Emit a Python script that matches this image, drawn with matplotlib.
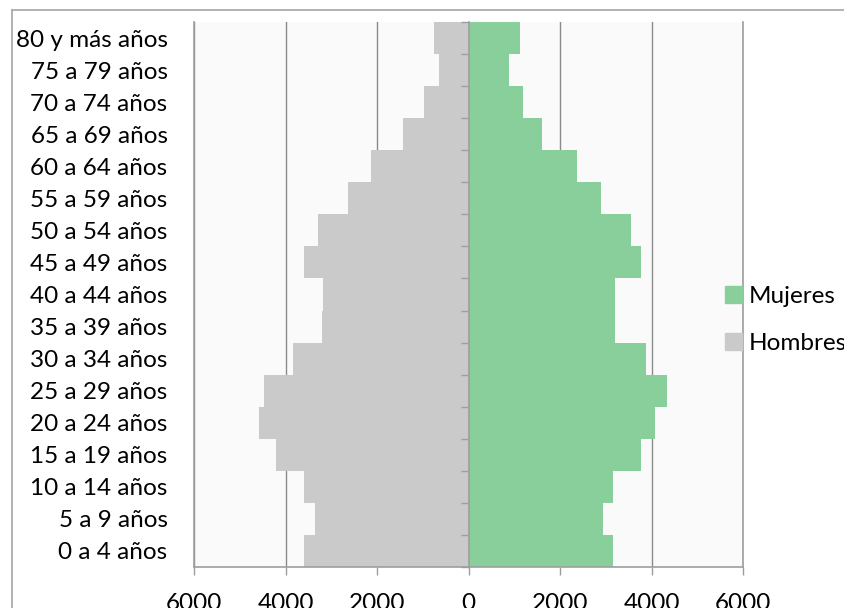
import numpy as np
import matplotlib.pyplot as plt
from matplotlib.lines import Line2D
from matplotlib.patches import Patch

plt.rcParams['font.family'] = ['Lato', 'DejaVu Sans']

# grupos de edad, de abajo hacia arriba
grupos = ['0 a 4 años', '5 a 9 años', '10 a 14 años', '15 a 19 años',
          '20 a 24 años', '25 a 29 años', '30 a 34 años', '35 a 39 años',
          '40 a 44 años', '45 a 49 años', '50 a 54 años', '55 a 59 años',
          '60 a 64 años', '65 a 69 años', '70 a 74 años', '75 a 79 años',
          '80 y más años']
hombres = [3590, 3360, 3600, 4215, 4575, 4465, 3845, 3210, 3175, 3595,
           3295, 2640, 2130, 1430, 980, 650, 755]
mujeres = [3165, 2945, 3165, 3765, 4075, 4330, 3880, 3205, 3205, 3765,
           3545, 2890, 2380, 1615, 1185, 885, 1135]
xticks = [-6000, -4000, -2000, 0, 2000, 4000, 6000]

verde = '#88cf9c'
gris = '#cacaca'
linea = '#9e9e9e'
fs = 17.5

fig = plt.figure(figsize=(8.44, 6.08), dpi=100)
ax = fig.add_axes([194/844, 41/608, 549/844, 545/608])
ax.set_facecolor('#fafafa')

y = np.arange(len(grupos))
ax.barh(y, [-h for h in hombres], height=1.0, color=gris, label='Hombres', zorder=2)
ax.barh(y, mujeres, height=1.0, color=verde, label='Mujeres', zorder=2)

ax.set_xlim(-6000, 6000)
ax.set_ylim(-0.5, len(grupos) - 0.5)
ax.set_xticks(xticks)
ax.set_xticklabels([str(abs(t)) for t in xticks])
ax.xaxis.grid(True, color='#8a8a8a', linewidth=1.0, zorder=1)
ax.set_axisbelow(True)

ax.set_yticks(y)
ax.set_yticklabels(grupos)
ax.tick_params(axis='y', length=0, pad=19, labelsize=fs)
ax.tick_params(axis='x', length=6, width=1.0, color=linea, pad=13, labelsize=fs)

ax.spines['top'].set_visible(False)
for s in ['left', 'right', 'bottom']:
    ax.spines[s].set_color(linea)
    ax.spines[s].set_linewidth(1.2)

# eje vertical en el cero con marcas entre grupos
eje0 = ax.secondary_yaxis(0.5)
eje0.set_alignment('left')
eje0.set_zorder(5)
eje0.set_yticks(np.arange(len(grupos) + 1) - 0.5)
eje0.set_yticklabels([])
eje0.tick_params(axis='y', which='both', direction='out', left=True, right=False,
                 length=6, width=1.0, color=linea)
for sp in eje0.spines.values():
    sp.set_color(linea)
    sp.set_linewidth(1.2)

# leyenda
handles = [Patch(color=verde, label='Mujeres'), Patch(color=gris, label='Hombres')]
fig.legend(handles=handles, loc='upper left', bbox_to_anchor=(715/844, 1 - 276/608),
           frameon=False, fontsize=fs, handlelength=0.7, handleheight=0.7,
           handletextpad=0.3, labelspacing=1.1, borderaxespad=0)

# marco exterior del gráfico
fig.add_artist(Line2D([12/844, 1.0], [1 - 10/608, 1 - 10/608], color='#a6a6a6', linewidth=1.2))
fig.add_artist(Line2D([12/844, 12/844], [0.0, 1 - 10/608], color='#a6a6a6', linewidth=1.2))

fig.savefig('out.png', dpi=100)
